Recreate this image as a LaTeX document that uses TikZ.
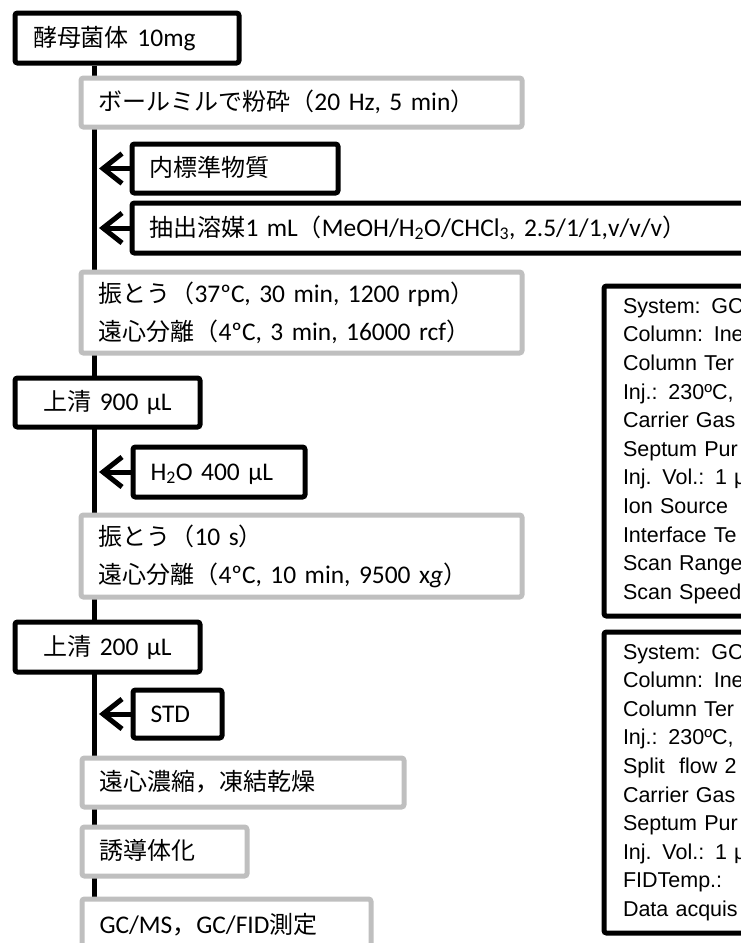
\documentclass[tikz,border=0pt]{standalone}
\usepackage{fontspec}
\setmainfont{Carlito}[Scale=1.06]
\newfontfamily\cjk{Noto Sans CJK JP}
\newfontfamily\arialf{Liberation Sans}
\usetikzlibrary{arrows.meta,backgrounds}
\definecolor{gbord}{RGB}{191,191,191}
\newcommand\J[1]{{\cjk #1}}
\begin{document}
\begin{tikzpicture}[x=1pt,y=-1pt,
  box/.style={anchor=north west, line width=5pt, rounded corners=2.5pt, fill=white,
    inner ysep=0pt, inner xsep=17.5pt, align=left, font=\fontsize{24}{38}\selectfont},
  blk/.style={box, draw=black},
  gry/.style={box, draw=gbord},
  one/.style={text height=20pt, text depth=4pt},
  info/.style={anchor=north west, draw=black, line width=5pt, rounded corners=2.5pt,
    fill=white, align=left, inner xsep=19pt, inner ysep=0pt, text width=260pt,
    font=\arialf\fontsize{21.5}{28.6}\selectfont},
  arr/.style={line width=5pt, -{Straight Barb[length=19pt,width=30pt]}},
  spine/.style={line width=5.5pt}]
\useasboundingbox (0,0) rectangle (741,943);
\clip (0,0) rectangle (741,943);
\coordinate (spx) at (94.5,0);
\coordinate (tipx) at (99,0);

\node[blk, one, inner xsep=18pt, minimum width=224pt, minimum height=50pt, text width=188pt] (yeast) at (12.5,10.5) {\J{酵母菌体} 10mg};
\node[gry, one, minimum width=441pt, minimum height=49pt, text width=406pt] (ball) at (78.5,75.5) {\J{ボールミルで粉砕（}20 Hz, 5 min\J{）}};
\node[blk, one, minimum width=206pt, minimum height=49pt, text width=171pt] (naihyo) at (129.5,141.5) {\J{内標準物質}};
\node[blk, one, minimum width=628pt, minimum height=50pt, text width=593pt] (extract) at (129.5,200.5) {\J{抽出溶媒}1 mL\J{（}MeOH/H\textsubscript{2}O/CHCl\textsubscript{3}, 2.5/1/1,v/v/v\J{）}};
\node[gry, minimum width=441pt, minimum height=81pt, text width=406pt] (shakeA) at (78.5,269.5) {\J{振とう（}37ºC, 30 min, 1200 rpm\J{）}\\\J{遠心分離（}4ºC, 3 min, 16000 rcf\J{）}};
\node[blk, one, align=center, inner xsep=10pt, minimum width=185pt, minimum height=49pt, text width=165pt] (supA) at (12.5,375.5) {\J{上清} 900 μL};
\node[blk, one, minimum width=172pt, minimum height=50pt, text width=137pt] (water) at (130.5,444.5) {H\textsubscript{2}O 400 μL};
\node[gry, minimum width=441pt, minimum height=82pt, text width=406pt] (shakeB) at (78.5,512.5) {\J{振とう（}10 s\J{）}\\\J{遠心分離（}4ºC, 10 min, 9500 x\textit{g}\J{）}};
\node[blk, one, align=center, inner xsep=10pt, minimum width=185pt, minimum height=50pt, text width=165pt] (supB) at (12.5,619.5) {\J{上清} 200 μL};
\node[blk, one, minimum width=89pt, minimum height=48pt, text width=54pt] (std) at (130.5,687.5) {STD};
\node[gry, one, minimum width=322pt, minimum height=49pt, text width=287pt] (conc) at (79.5,755.5) {\J{遠心濃縮，凍結乾燥}};
\node[gry, one, minimum width=165pt, minimum height=49pt, text width=130pt] (deriv) at (79.5,824.5) {\J{誘導体化}};
\node[gry, one, minimum width=289pt, minimum height=53pt, text width=254pt] (gcms) at (79.5,896.5) {GC/MS\J{，}GC/FID\J{測定}};

\node[info, minimum height=330pt] (msbox) at (601.5,283.5) {System: GC\\Column: Ine\\Column Ter\\Inj.: 230ºC,\\Carrier Gas\\Septum Pur\\Inj. Vol.: 1 μ\\Ion Source\\Interface Te\\Scan Range\\Scan Speed};
\node[info, minimum height=301pt] (fidbox) at (601.5,629.5) {System: GC\\Column: Ine\\Column Ter\\Inj.: 230ºC,\\Split\ \ flow 2\\Carrier Gas\\Septum Pur\\Inj. Vol.: 1 μ\\FIDTemp.:\\Data acquis};

\begin{scope}[on background layer]
\fill[white] (0,0) rectangle (741,943);
\draw[spine] (yeast.south -| spx) -- (gcms.north -| spx);
\end{scope}

\draw[arr] (naihyo.west) -- (naihyo.west -| tipx);
\draw[arr] (extract.west) -- (extract.west -| tipx);
\draw[arr] (water.west) -- (water.west -| tipx);
\draw[arr] (std.west) -- (std.west -| tipx);
\end{tikzpicture}
\end{document}
